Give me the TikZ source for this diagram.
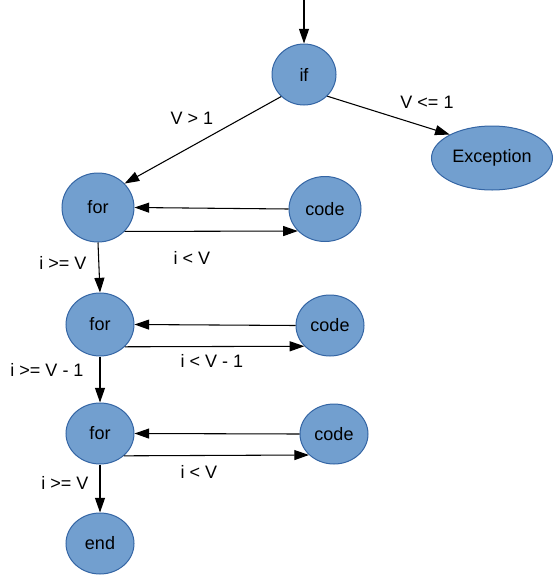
\documentclass[tikz,border=0pt]{standalone}
\usepackage{fontspec}
\setmainfont{Liberation Sans}
\usetikzlibrary{shapes.geometric,arrows.meta}
\definecolor{fillc}{RGB}{114,159,207}
\definecolor{bordc}{RGB}{52,101,164}
\begin{document}
\begin{tikzpicture}[x=0.75pt,y=-0.75pt,
  every node/.style={font=\fontsize{13.5}{16}\selectfont},
  nd/.style={ellipse,draw=bordc,fill=fillc,inner sep=0pt,line width=0.75pt},
  sz/.style 2 args={minimum width=#1*0.75pt,minimum height=#2*0.75pt},
  arr/.style={line width=0.8pt,-{Triangle[length=11pt,width=7.5pt]}},
  lbl/.style={inner sep=1pt}]
\useasboundingbox (0,0) rectangle (554,575);
\node[nd,sz={64}{61}] (if) at (304,74.5) {if};
\node[nd,sz={121}{64}] (exc) at (492,158) {Exception};
\node[nd,sz={72}{69}] (for1) at (98,207.5) {for};
\node[nd,sz={72}{65}] (code1) at (325,209) {code};
\node[nd,sz={68}{63}] (for2) at (100,324.5) {for};
\node[nd,sz={68}{61}] (code2) at (330,325.5) {code};
\node[nd,sz={68}{61}] (for3) at (100,433.5) {for};
\node[nd,sz={68}{60}] (code3) at (334,434) {code};
\node[nd,sz={68}{61}] (end) at (100,543.5) {end};
\coordinate (top) at (304,0);
\draw[arr] (top) -- (if.north);
\draw[arr] (if.224) -- (for1.42);
\draw[arr] (if.-43) -- (exc.151);
\draw[arr] (code1.west) -- (for1.east);
\draw[arr] (for1.-42) -- (code1.219);
\draw[arr] (for1.south) -- (for2.north);
\draw[arr] (code2.west) -- (for2.east);
\draw[arr] (for2.-42) -- (code2.219);
\draw[arr] (for2.south) -- (for3.north);
\draw[arr] (code3.west) -- (for3.east);
\draw[arr] (for3.-43) -- (code3.220);
\draw[arr] (for3.south) -- (end.north);
\node[lbl] (l1) at (192,118) {V > 1};
\node[lbl] (l2) at (427,102) {V <= 1};
\node[lbl] (l3) at (192,258) {i < V};
\node[lbl] (l4) at (63,263) {i >= V};
\node[lbl] (l5) at (212,361) {i < V - 1};
\node[lbl] (l6) at (47,370) {i >= V - 1};
\node[lbl] (l7) at (199,472) {i < V};
\node[lbl] (l8) at (65,483) {i >= V};
\end{tikzpicture}
\end{document}
